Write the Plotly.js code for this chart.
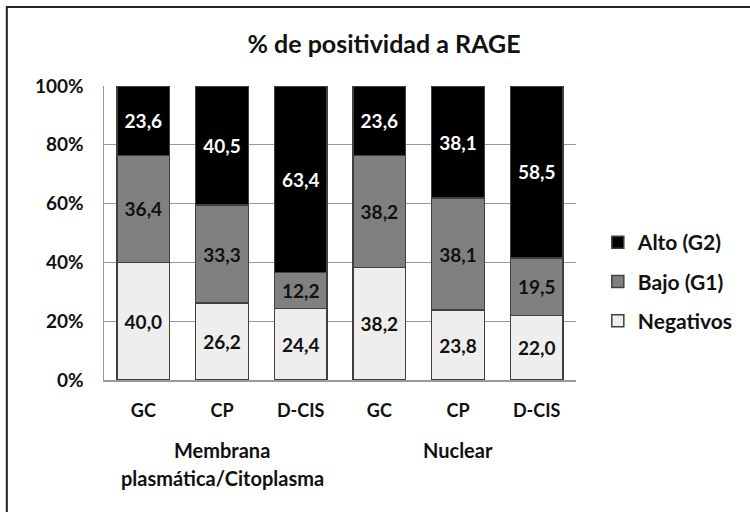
<!DOCTYPE html>
<html>
<head>
<meta charset="utf-8">
<script src="https://cdn.plot.ly/plotly-3.0.1.min.js"></script>
<style>html,body{margin:0;padding:0;background:#fff;}#chart{width:750px;height:512px;}</style>
</head>
<body>
<div id="chart"></div>
<script>
const xPositions = [0, 1, 2, 3, 4, 5];
const tickLabels = ['GC', 'CP', 'D-CIS', 'GC', 'CP', 'D-CIS'];
const yTickVals = [0, 20, 40, 60, 80, 100];
const yTickLabels = ['0%', '20%', '40%', '60%', '80%', '100%'];
const negativos = [40.0, 26.2, 24.4, 38.2, 23.8, 22.0];
const bajo = [36.4, 33.3, 12.2, 38.2, 38.1, 19.5];
const alto = [23.6, 40.5, 63.4, 23.6, 38.1, 58.5];
const groupNames = ['Membrana', 'plasmática/Citoplasma', 'Nuclear'];
const groupCenters = [1, 1, 4];

const FONT = 'Lato, "Open Sans", sans-serif';
const fmt = v => v.toFixed(1).replace('.', ',');

function mk(name, vals, color, txtColor, grp, rank) {
  return {
    type: 'bar', name: name, x: xPositions, y: vals,
    text: vals.map(fmt), textposition: 'inside', insidetextanchor: 'middle',
    textfont: {family: FONT, size: 19, color: txtColor, weight: 'bold'},
    marker: {color: color, line: {color: '#404040', width: 1.5}},
    legendgroup: grp, legendrank: rank, hoverinfo: 'none', constraintext: 'none'
  };
}

const data = [
  mk('Negativos', negativos, '#eeeeee', '#111', 'c', 3),
  mk('Bajo (G1)', bajo, '#808080', '#111', 'b', 2),
  mk('Alto (G2)', alto, '#000000', '#ffffff', 'a', 1)
];

const annotations = groupNames.map((g, i) => ({
  text: g, x: groupCenters[i], xref: 'x', yref: 'paper',
  y: i === 1 ? (380 - 478) / 294 : (380 - 450) / 294,
  yanchor: 'middle', showarrow: false,
  font: {family: FONT, size: 20, color: '#111', weight: 'bold'}
}));

const layout = {
  width: 750, height: 512,
  margin: {l: 104, r: 170, t: 86, b: 132},
  paper_bgcolor: '#fff', plot_bgcolor: '#fff',
  barmode: 'stack', bargap: 0.33,
  font: {family: FONT, color: '#111'},
  title: {text: '% de positividad a RAGE', x: 0.512, xanchor: 'center', y: 1 - 44/512, yanchor: 'middle', yref: 'container',
          font: {family: FONT, size: 25, color: '#111', weight: 'bold'}},
  xaxis: {tickvals: xPositions, ticktext: tickLabels, range: [-0.5, 5.5],
          showline: true, linecolor: '#999', linewidth: 1.5, ticks: '', showgrid: false,
          ticklabelstandoff: 14, tickfont: {family: FONT, size: 18, color: '#111', weight: 'bold'}, fixedrange: true},
  yaxis: {range: [0, 100], tickvals: yTickVals, ticktext: yTickLabels,
          showline: true, linecolor: '#999', linewidth: 1.5, showgrid: true, gridcolor: '#999', gridwidth: 1.2,
          zeroline: false, ticks: '', ticklabelstandoff: 15,
          tickfont: {family: FONT, size: 19, color: '#111', weight: 'bold'}, fixedrange: true},
  legend: {x: (602 - 104) / 476, xanchor: 'left', y: (380 - 222) / 294, yanchor: 'top',
           traceorder: 'grouped', tracegroupgap: 9,
           font: {family: FONT, size: 21, color: '#111', weight: 'bold'}, bgcolor: 'rgba(0,0,0,0)'},
  shapes: [{type: 'rect', xref: 'paper', yref: 'paper',
            x0: (6 - 104) / 476, x1: 2, y0: -2, y1: (380 - 7) / 294,
            line: {color: '#222', width: 2}, fillcolor: 'rgba(0,0,0,0)'}],
  annotations: annotations
};

Plotly.newPlot('chart', data, layout, {displayModeBar: false, staticPlot: true});
</script>
</body>
</html>
